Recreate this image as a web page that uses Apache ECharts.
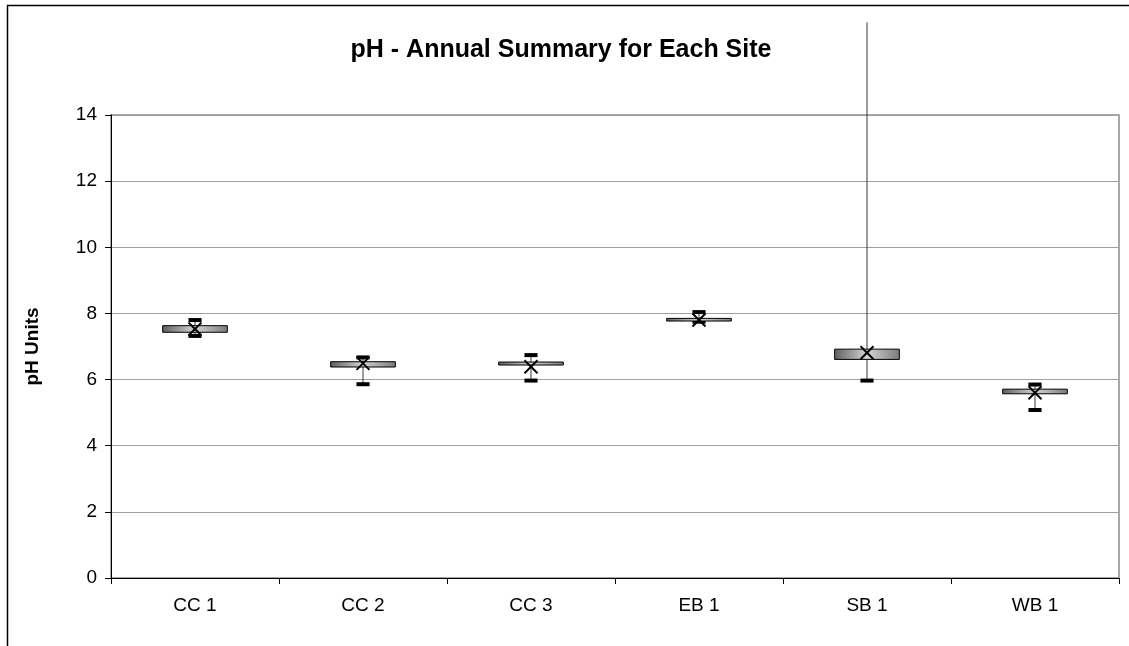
<!DOCTYPE html>
<html>
<head>
<meta charset="utf-8">
<script src="https://cdn.jsdelivr.net/npm/echarts@6/dist/echarts.min.js"></script>
<style>
html,body{margin:0;padding:0;background:#fff;}
#main{width:1129px;height:646px;}
</style>
</head>
<body>
<div id="main"></div>
<script>
const categories = ['CC 1', 'CC 2', 'CC 3', 'EB 1', 'SB 1', 'WB 1'];
const minVals  = [7.32, 5.86, 5.97, 7.75, 5.97, 5.08];
const q1Vals   = [7.43, 6.38, 6.44, 7.77, 6.61, 5.57];
const q3Vals   = [7.63, 6.54, 6.53, 7.85, 6.92, 5.71];
const maxVals  = [7.80, 6.67, 6.74, 8.04, 16.8, 5.85];
const meanVals = [7.53, 6.49, 6.39, 7.80, 6.81, 5.60];
const yTicks = [0, 2, 4, 6, 8, 10, 12, 14];

const FONT = '"Liberation Sans", Arial, sans-serif';
const chart = echarts.init(document.getElementById('main'));
const yMax = yTicks[yTicks.length - 1];

const data = categories.map((c, i) => [i, minVals[i], q1Vals[i], q3Vals[i], maxVals[i], meanVals[i]]);

function renderItem(params, api) {
  const idx = api.value(0);
  const vMin = api.value(1), vQ1 = api.value(2), vQ3 = api.value(3), vMax = api.value(4), vMean = api.value(5);
  const band = api.size([1, 0])[0];
  const boxW = band * 0.385;
  const capW = band * 0.078;
  const pMin = api.coord([idx, vMin]);
  const pQ1 = api.coord([idx, vQ1]);
  const pQ3 = api.coord([idx, vQ3]);
  const pMax = api.coord([idx, vMax]);
  const pMean = api.coord([idx, vMean]);
  const cx = pQ1[0];
  const children = [];
  const wStyle = { stroke: '#3a3a3a', lineWidth: 1 };
  children.push({ type: 'line', shape: { x1: cx, y1: pQ3[1], x2: cx, y2: Math.max(pMax[1], 22) }, style: wStyle });
  children.push({ type: 'line', shape: { x1: cx, y1: pQ1[1], x2: cx, y2: pMin[1] }, style: wStyle });
  if (vMax <= yMax) {
    children.push({ type: 'rect', shape: { x: cx - capW / 2, y: pMax[1] - 2, width: capW, height: 4 }, style: { fill: '#000' } });
  }
  children.push({ type: 'rect', shape: { x: cx - capW / 2, y: pMin[1] - 2, width: capW, height: 4 }, style: { fill: '#000' } });
  const h = Math.max(pQ1[1] - pQ3[1], 2);
  children.push({
    type: 'rect',
    shape: { x: cx - boxW / 2, y: pQ3[1], width: boxW, height: h },
    style: {
      fill: new echarts.graphic.LinearGradient(0, 0, 1, 0, [
        { offset: 0, color: '#5e5e5e' },
        { offset: 0.5, color: '#d4d4d4' },
        { offset: 1, color: '#7a7a7a' }
      ]),
      stroke: '#000', lineWidth: 1
    }
  });
  const s = 6.5;
  const xStyle = { stroke: '#000', lineWidth: 2 };
  children.push({ type: 'line', shape: { x1: cx - s, y1: pMean[1] - s, x2: cx + s, y2: pMean[1] + s }, style: xStyle });
  children.push({ type: 'line', shape: { x1: cx - s, y1: pMean[1] + s, x2: cx + s, y2: pMean[1] - s }, style: xStyle });
  return { type: 'group', children };
}

chart.setOption({
  animation: false,
  backgroundColor: '#fff',
  title: {
    text: 'pH - Annual Summary for Each Site',
    left: 556, top: 33, textAlign: 'center',
    textStyle: { fontFamily: FONT, fontSize: 25, fontWeight: 'bold', color: '#000' }
  },
  graphic: [{
    type: 'rect', z: -1,
    shape: { x: 7.5, y: 5.5, width: 1200, height: 1000 },
    style: { fill: 'none', stroke: '#000', lineWidth: 1.5 }
  }],
  grid: {
    left: 111, top: 115, right: 10, bottom: 68,
    show: true, borderColor: '#8c8c8c', borderWidth: 1.5, backgroundColor: '#fff'
  },
  xAxis: {
    type: 'category',
    data: categories,
    boundaryGap: true,
    axisLine: { lineStyle: { color: '#000', width: 1 } },
    axisTick: { show: true, alignWithLabel: false, length: 6, lineStyle: { color: '#000' } },
    axisLabel: { fontFamily: FONT, fontSize: 19, color: '#000', margin: 18 },
    splitLine: { show: false }
  },
  yAxis: {
    type: 'value',
    min: 0, max: yMax, interval: 2,
    name: 'pH Units',
    nameLocation: 'middle',
    nameGap: 69,
    nameTextStyle: { fontFamily: FONT, fontSize: 19, fontWeight: 'bold', color: '#000' },
    axisLine: { show: true, lineStyle: { color: '#000', width: 1 } },
    axisTick: { show: true, length: 6, lineStyle: { color: '#000' } },
    axisLabel: { fontFamily: FONT, fontSize: 19, color: '#000', margin: 14 },
    splitLine: { show: true, lineStyle: { color: '#a0a0a0', width: 1 } }
  },
  series: [{
    type: 'custom',
    renderItem: renderItem,
    clip: false,
    encode: { x: 0, y: [1, 2, 3, 4, 5] },
    data: data,
    z: 10
  }]
});
</script>
</body>
</html>
